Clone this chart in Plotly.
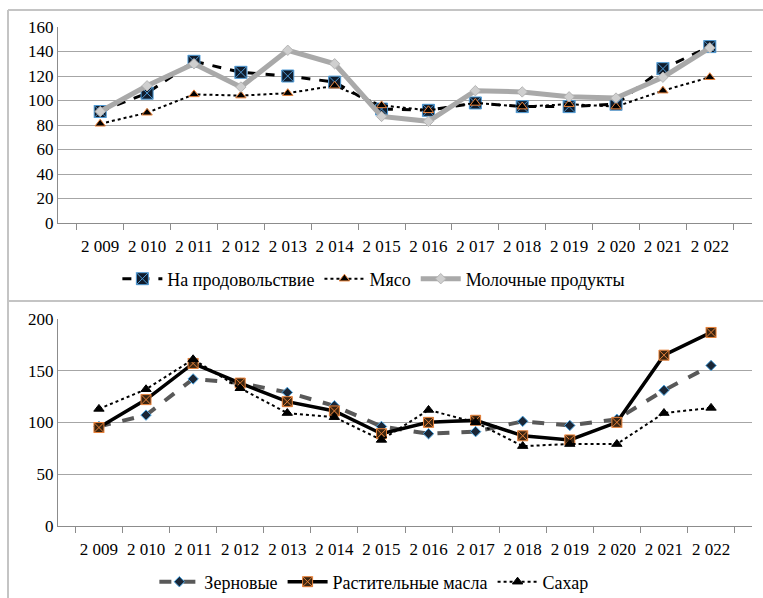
import plotly.graph_objects as go

years = ["2 009", "2 010", "2 011", "2 012", "2 013", "2 014", "2 015",
         "2 016", "2 017", "2 018", "2 019", "2 020", "2 021", "2 022"]

food = [91, 106, 132, 123, 120, 115, 93, 92, 98, 95, 95, 97, 126, 144]
meat = [81, 90, 105, 104, 106, 112, 96, 92, 98, 95, 97, 95, 108, 119]
dairy = [91, 112, 130, 111, 141, 130, 87, 83, 108, 107, 103, 102, 119, 143]

grain = [96, 107, 142, 138, 129, 116, 96, 89, 91, 101, 97, 103, 131, 155]
oil = [95, 122, 157, 138, 120, 111, 89, 100, 102, 87, 83, 100, 165, 187]
sugar = [113, 132, 161, 133, 109, 105, 83, 112, 100, 77, 79, 79, 109, 114]

W, H = 763, 598
FONT = "'Liberation Serif', 'Times New Roman', 'DejaVu Serif', serif"

fig = go.Figure()

# Top panel
fig.add_trace(go.Scatter(x=years, y=food, name="На продовольствие", mode="lines+markers",
                         line=dict(color="black", width=3, dash="dash"),
                         marker=dict(symbol="square-x", size=12, color="#101c2c",
                                     line=dict(color="#4f9bd6", width=1)),
                         xaxis="x", yaxis="y", legend="legend"))
fig.add_trace(go.Scatter(x=years, y=meat, name="Мясо", mode="lines+markers",
                         line=dict(color="black", width=2, dash="dot"),
                         marker=dict(symbol="triangle-up", size=9, color="black",
                                     line=dict(color="#e8823a", width=1)),
                         xaxis="x", yaxis="y", legend="legend"))
fig.add_trace(go.Scatter(x=years, y=dairy, name="Молочные продукты", mode="lines+markers",
                         line=dict(color="#a9a9a9", width=5),
                         marker=dict(symbol="diamond", size=8, color="#cfcfcf",
                                     line=dict(color="#b5b5b5", width=1)),
                         xaxis="x", yaxis="y", legend="legend"))

# Bottom panel
fig.add_trace(go.Scatter(x=years, y=grain, name="Зерновые", mode="lines+markers",
                         line=dict(color="#595959", width=4, dash="dash"),
                         marker=dict(symbol="diamond", size=8, color="#1a2636",
                                     line=dict(color="#4aa3df", width=1)),
                         xaxis="x2", yaxis="y2", legend="legend2"))
fig.add_trace(go.Scatter(x=years, y=oil, name="Растительные масла", mode="lines+markers",
                         line=dict(color="black", width=3.5),
                         marker=dict(symbol="square-x", size=10, color="#3a2410",
                                     line=dict(color="#e8823a", width=1)),
                         xaxis="x2", yaxis="y2", legend="legend2"))
fig.add_trace(go.Scatter(x=years, y=sugar, name="Сахар", mode="lines+markers",
                         line=dict(color="black", width=2, dash="dot"),
                         marker=dict(symbol="triangle-up", size=9, color="black",
                                     line=dict(color="black", width=1)),
                         xaxis="x2", yaxis="y2", legend="legend2"))

x0, x1 = 58 / W, 752 / W
xcommon = dict(type="category", showgrid=False, showline=True, linecolor="#8c8c8c",
               linewidth=1, ticks="outside", tickson="boundaries", ticklen=6,
               tickcolor="#8c8c8c", tickfont=dict(family=FONT, size=17, color="black"),
               ticklabelstandoff=8, tickangle=0,
               domain=[x0, x1], zeroline=False, fixedrange=True, automargin=False)
ycommon = dict(showgrid=True, gridcolor="#a6a6a6", gridwidth=1, showline=True,
               linecolor="#8c8c8c", linewidth=1, ticks="", zeroline=False,
               tickfont=dict(family=FONT, size=17, color="black"), fixedrange=True,
               automargin=False)

legcommon = dict(orientation="h", xanchor="center", x=0.49, yanchor="middle",
                 font=dict(family=FONT, size=18, color="black"),
                 bgcolor="rgba(0,0,0,0)", itemwidth=40, tracegroupgap=0)

fig.update_layout(
    width=W, height=H,
    margin=dict(l=0, r=0, t=0, b=0, autoexpand=False),
    paper_bgcolor="white", plot_bgcolor="white",
    font=dict(family=FONT, color="black"),
    showlegend=True,
    xaxis=dict(**xcommon, anchor="y"),
    yaxis=dict(**ycommon, domain=[1 - 223 / H, 1 - 27 / H], range=[0, 160],
               dtick=20, anchor="x"),
    xaxis2=dict(**xcommon, anchor="y2"),
    yaxis2=dict(**ycommon, domain=[1 - 525.7 / H, 1 - 319 / H], range=[0, 200],
                dtick=50, anchor="x2"),
    legend=dict(**legcommon, y=1 - 279 / H),
    legend2=dict(**legcommon, y=1 - 582 / H),
)

# Panel frames
frame = dict(color="#c4c4c4", width=2)
fig.add_shape(type="line", xref="paper", yref="paper", x0=8 / W, x1=1.01, y0=1 - 10 / H, y1=1 - 10 / H, line=frame)
fig.add_shape(type="line", xref="paper", yref="paper", x0=8 / W, x1=8 / W, y0=1 - 10 / H, y1=-0.01, line=frame)
fig.add_shape(type="line", xref="paper", yref="paper", x0=8 / W, x1=1.01, y0=1 - 301 / H, y1=1 - 301 / H, line=frame)

fig.write_html(
    "out.html",
    config={"displayModeBar": False},
    post_script="document.body.style.margin='0';document.body.style.padding='0';"
                "document.documentElement.style.overflow='hidden';",
)
